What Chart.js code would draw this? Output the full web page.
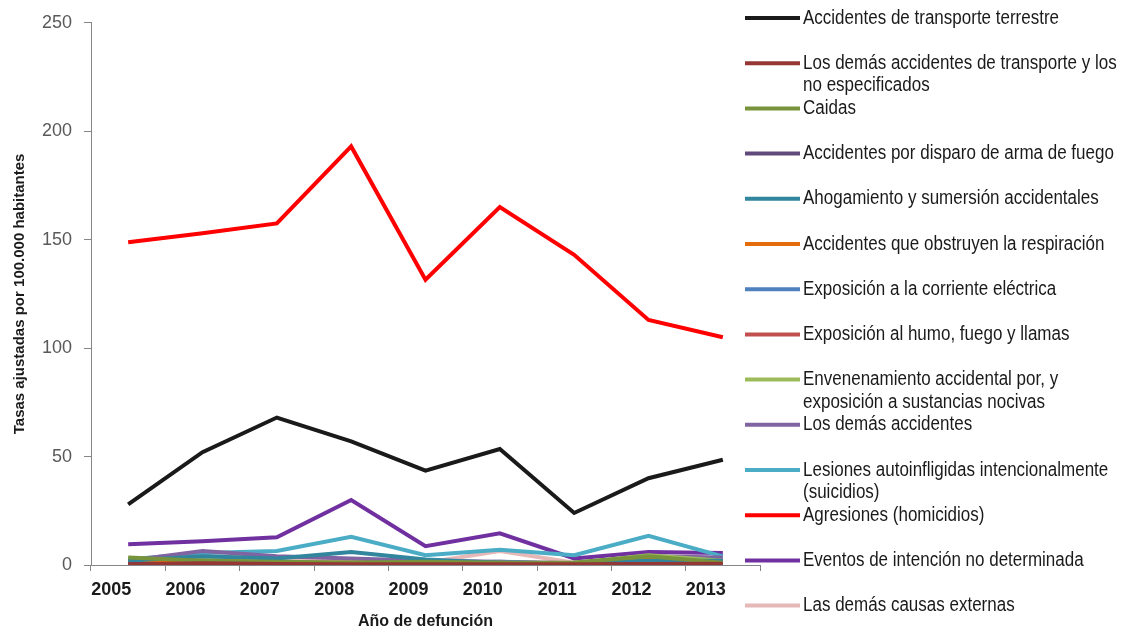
<!DOCTYPE html>
<html>
<head>
<meta charset="utf-8">
<script src="https://cdn.jsdelivr.net/npm/chart.js@4/dist/chart.umd.min.js"></script>
<style>
  html, body { margin: 0; padding: 0; background: #fff; }
  #wrap { width: 1132px; height: 634px; }
</style>
</head>
<body>
<div id="wrap"><canvas id="chart" width="1132" height="634"></canvas></div>
<script>
// years on the x axis
const years = ["2005", "2006", "2007", "2008", "2009", "2010", "2011", "2012", "2013"];

// rates per 100,000 inhabitants
const transporteTerrestre = [28, 52, 68, 57, 43.5, 53.5, 24, 40, 48.5];
const demasTransporte = [0.3, 0.8, 0.5, 0.4, 0.3, 0.4, 0.3, 0.5, 0.6];
const caidas = [3.5, 2, 1.5, 1.2, 1.5, 1, 1.2, 4, 1];
const disparo = [0.5, 0.5, 0.3, 0.3, 0.4, 0.3, 0.3, 0.4, 0.3];
const ahogamiento = [2, 4, 3, 6, 2.5, 1, 0.8, 2, 2];
const obstruyen = [1, 2, 1, 1, 0.8, 1, 0.5, 2.5, 1.5];
const corriente = [1, 1, 0.8, 0.6, 0.7, 1.5, 0.5, 1.5, 1.5];
const humo = [0.5, 1, 0.5, 0.5, 0.3, 0.5, 0.3, 0.5, 1];
const envenenamiento = [1.5, 2.5, 1, 0.5, 1, 1, 0.8, 4.5, 2];
const demasAccidentes = [2, 6.5, 4, 3, 2, 1.5, 0.8, 4, 3.5];
const suicidios = [2.5, 5.5, 6.5, 13, 4.5, 7, 4.5, 13.5, 4];
const homicidios = [148.8, 153, 157.5, 193, 131.5, 165, 143, 113, 105];
const noDeterminada = [9.6, 11, 12.8, 30, 8.7, 14.6, 3, 6, 5.5];
const demasCausas = [1, 4, 3, 2, 1, 6.5, 1, 1.5, 3.5];

const seriesNames = [
  "Accidentes de transporte terrestre",
  "Los demás accidentes de transporte y los no especificados",
  "Caidas",
  "Accidentes por disparo de arma de fuego",
  "Ahogamiento y sumersión accidentales",
  "Accidentes que obstruyen la respiración",
  "Exposición a la corriente eléctrica",
  "Exposición al humo, fuego y llamas",
  "Envenenamiento accidental por, y exposición a sustancias nocivas",
  "Los demás accidentes",
  "Lesiones autoinfligidas intencionalmente (suicidios)",
  "Agresiones (homicidios)",
  "Eventos de intención no determinada",
  "Las demás causas externas"
];
const seriesValues = [transporteTerrestre, demasTransporte, caidas, disparo, ahogamiento, obstruyen,
  corriente, humo, envenenamiento, demasAccidentes, suicidios, homicidios, noDeterminada, demasCausas];
const seriesColors = ["#1a1a1a", "#953735", "#77933c", "#604a7b", "#31859c", "#e46c0a", "#4f81bd",
  "#c0504d", "#9bbb59", "#8064a2", "#4bacc6", "#ff0000", "#7030a0", "#e6b9b8"];

const datasets = seriesNames.map((name, i) => ({
  label: name,
  data: seriesValues[i],
  borderColor: seriesColors[i],
  backgroundColor: seriesColors[i],
  borderWidth: 4,
  pointRadius: 0,
  tension: 0,
  fill: false
}));

// legend drawn on the right, Excel style (wrapping long names)
const sideLegend = {
  id: "sideLegend",
  afterDraw(chart) {
    const ctx = chart.ctx;
    const sx = 0.85;
    const maxW = 327;
    ctx.save();
    ctx.font = '20px "Liberation Sans", Arial, sans-serif';
    ctx.textBaseline = "middle";
    chart.data.datasets.forEach((ds, i) => {
      const y = 18 + i * 45.2;
      ctx.strokeStyle = ds.borderColor;
      ctx.lineWidth = 4;
      ctx.beginPath();
      ctx.moveTo(745, y);
      ctx.lineTo(800, y);
      ctx.stroke();

      // wrap words
      const words = ds.label.split(" ");
      const lines = [];
      let cur = "";
      words.forEach(w => {
        const test = cur ? cur + " " + w : w;
        if (ctx.measureText(test).width * sx > maxW && cur) {
          lines.push(cur);
          cur = w;
        } else {
          cur = test;
        }
      });
      lines.push(cur);

      ctx.fillStyle = "#1a1a1a";
      lines.forEach((ln, k) => {
        ctx.save();
        ctx.translate(803, y + k * 22.5);
        ctx.scale(sx, 1);
        ctx.fillText(ln, 0, 0);
        ctx.restore();
      });
    });
    ctx.restore();
  }
};

new Chart(document.getElementById("chart"), {
  type: "line",
  data: { labels: years, datasets: datasets },
  plugins: [sideLegend],
  options: {
    responsive: false,
    animation: false,
    layout: { padding: { left: 0, top: 19, right: 372, bottom: 0 } },
    plugins: {
      legend: { display: false },
      tooltip: { enabled: false }
    },
    scales: {
      x: {
        offset: true,
        grid: { display: true, offset: true, drawOnChartArea: false, drawTicks: true, tickLength: 6, color: "#868686" },
        border: { display: true, color: "#868686", width: 1 },
        ticks: {
          color: "#1a1a1a",
          font: { family: "Liberation Sans, Arial, sans-serif", size: 18, weight: "bold" },
          padding: 8,
          labelOffset: -17,
          maxRotation: 0
        },
        title: {
          display: true,
          text: "Año de defunción",
          color: "#1a1a1a",
          font: { family: "Liberation Sans, Arial, sans-serif", size: 16, weight: "bold" },
          padding: { top: 0, bottom: 3 }
        },
        afterFit(scale) { scale.height = 69; }
      },
      y: {
        min: 0,
        max: 250,
        grid: { display: true, drawOnChartArea: false, drawTicks: true, tickLength: 7, color: "#868686" },
        border: { display: true, color: "#868686", width: 1 },
        ticks: {
          stepSize: 50,
          color: "#595959",
          font: { family: "Liberation Sans, Arial, sans-serif", size: 18 },
          padding: 12
        },
        title: {
          display: true,
          text: "Tasas ajustadas por 100.000 habitantes",
          color: "#1a1a1a",
          font: { family: "Liberation Sans, Arial, sans-serif", size: 15, weight: "bold" },
          padding: { top: 11, bottom: 0 }
        },
        afterFit(scale) { scale.width = 91; }
      }
    }
  }
});
</script>
</body>
</html>
